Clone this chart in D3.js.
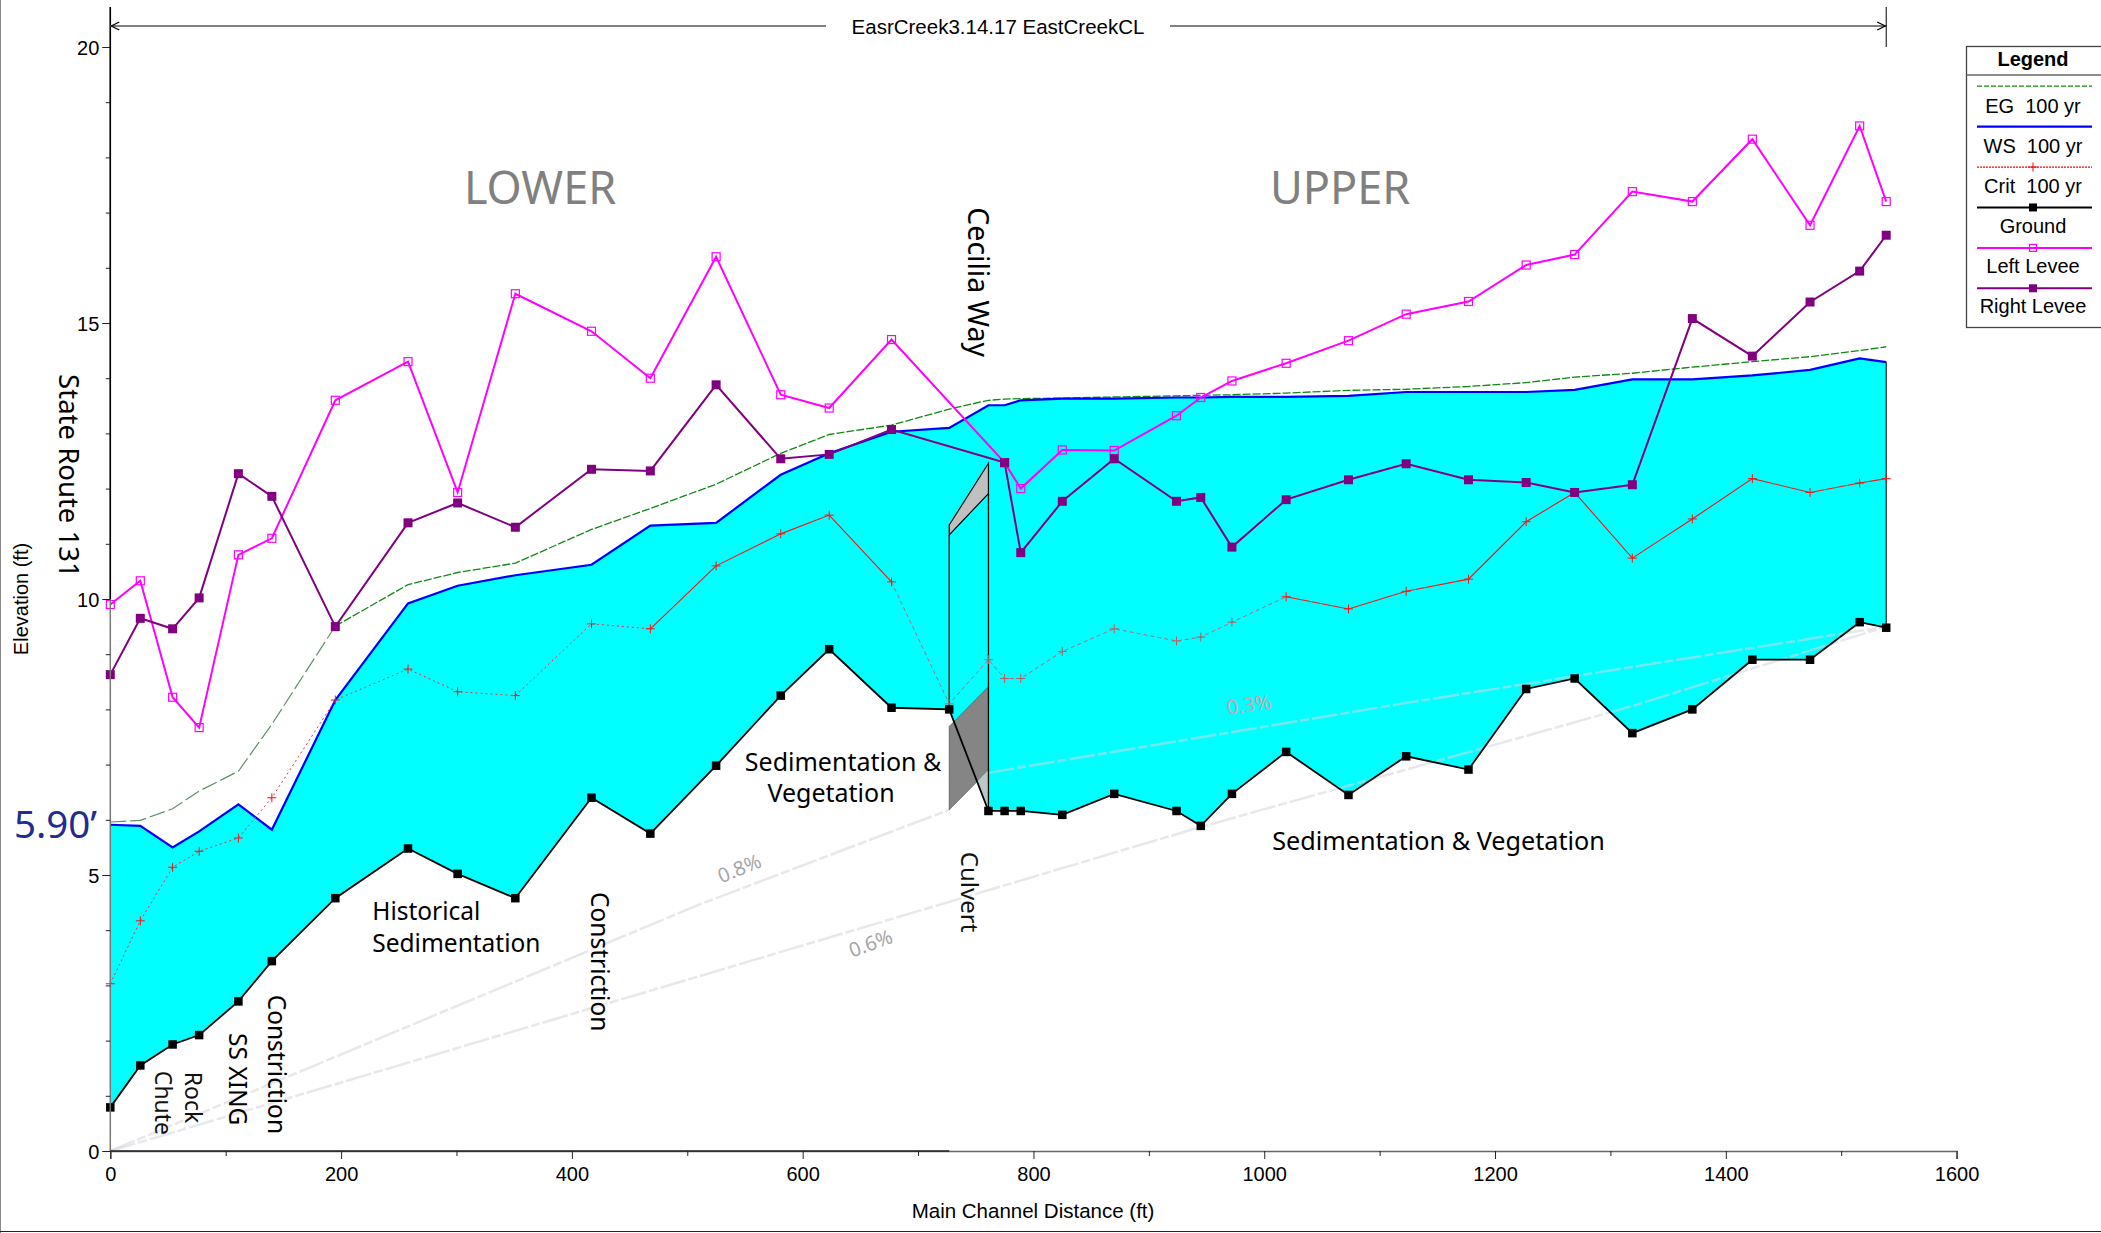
<!DOCTYPE html>
<html>
<head>
<meta charset="utf-8">
<script src="https://cdn.jsdelivr.net/npm/d3@7"></script>
<style>
  html, body { margin: 0; padding: 0; background: #fff; overflow: hidden; }
  svg { display: block; }
</style>
</head>
<body>
<div id="chart"></div>
<script>
// Main channel stations (ft)
const stations = [0, 26, 54, 77, 111, 140, 195, 258, 301, 351, 417, 468, 525, 581, 623, 677, 727, 761, 775, 789, 825, 870, 924, 945, 972, 1019, 1073, 1123, 1177, 1227, 1269, 1319, 1371, 1423, 1473, 1516, 1539];

// Elevations (ft), one per station
const ground = [0.79, 1.55, 1.93, 2.10, 2.71, 3.44, 4.58, 5.48, 5.02, 4.58, 6.40, 5.75, 6.98, 8.25, 9.09, 8.03, 8.00, 6.16, 6.16, 6.16, 6.09, 6.47, 6.16, 5.89, 6.47, 7.23, 6.45, 7.15, 6.91, 8.37, 8.56, 7.57, 8.00, 8.90, 8.90, 9.58, 9.48];
const ws = [5.91, 5.89, 5.50, 5.79, 6.28, 5.82, 8.17, 9.92, 10.24, 10.43, 10.62, 11.33, 11.38, 12.25, 12.64, 13.03, 13.10, 13.51, 13.51, 13.60, 13.63, 13.63, 13.65, 13.65, 13.66, 13.66, 13.68, 13.75, 13.75, 13.75, 13.79, 13.98, 13.98, 14.05, 14.15, 14.36, 14.29];
const eg = [5.96, 5.99, 6.20, 6.52, 6.88, 7.73, 9.51, 10.26, 10.48, 10.65, 11.26, 11.64, 12.08, 12.64, 12.98, 13.15, 13.44, 13.60, 13.62, 13.63, 13.64, 13.66, 13.68, 13.69, 13.70, 13.73, 13.78, 13.80, 13.85, 13.92, 14.02, 14.09, 14.20, 14.30, 14.39, 14.50, 14.57];
const crit = [3.03, 4.17, 5.14, 5.43, 5.67, 6.40, 8.17, 8.73, 8.32, 8.25, 9.55, 9.46, 10.60, 11.18, 11.52, 10.31, 8.10, 8.90, 8.56, 8.56, 9.05, 9.46, 9.24, 9.31, 9.58, 10.04, 9.82, 10.14, 10.36, 11.40, 11.93, 10.74, 11.45, 12.18, 11.93, 12.10, 12.18];
const leftLevee = [9.90, 10.33, 8.22, 7.67, 10.80, 11.10, 13.60, 14.30, 11.93, 15.53, 14.85, 14.00, 16.20, 13.70, 13.46, 14.70, null, null, 12.47, 12.00, 12.70, 12.69, 13.32, 13.65, 13.95, 14.27, 14.68, 15.16, 15.39, 16.05, 16.24, 17.38, 17.20, 18.33, 16.77, 18.57, 17.20];
const rightLevee = [8.63, 9.65, 9.46, 10.02, 12.27, 11.86, 9.50, 11.38, 11.74, 11.30, 12.35, 12.32, 13.88, 12.54, 12.62, 13.07, null, null, 12.47, 10.84, 11.77, 12.54, 11.77, 11.84, 10.94, 11.80, 12.16, 12.45, 12.16, 12.11, 11.93, 12.07, 15.08, 14.40, 15.38, 15.94, 16.59];

// Hand drawn grade lines [ft, elevation]
const slope08 = [[0, 0], [511, 4.47], [727, 6.18]];
const slope06 = [[0, 0], [511, 3.17], [945, 5.87], [1176, 7.22], [1319, 8.06], [1539, 9.5]];
const slope03 = [[761, 6.85], [1118, 8.1], [1539, 9.5]];

// Cecilia Way crossing [ft, elevation]
const deck = [[727, 11.34], [761, 12.46], [761, 11.91], [727, 11.16]];
const culvertBlock = [[727, 7.69], [761, 8.41], [761, 6.9], [727, 6.18]];
const culvertWedge = [[752, 6.71], [761, 6.9], [761, 6.16]];
const piers = [[727, 11.16, 8.0], [761, 11.91, 6.16]];

const xMajor = [0, 200, 400, 600, 800, 1000, 1200, 1400, 1600];
const xMinor = [100, 300, 500, 700, 900, 1100, 1300, 1500];
const yMajor = [0, 5, 10, 15, 20];
const yMinor = [1, 2, 3, 4, 6, 7, 8, 9, 11, 12, 13, 14, 16, 17, 18, 19];

const legendNames = ["EG  100 yr", "WS  100 yr", "Crit  100 yr", "Ground", "Left Levee", "Right Levee"];

// Callouts: text, ft, elevation, font size, rotation
const callouts = [
  ["LOWER", 372.4, 17.16, 45, 0, "#808080", "middle"],
  ["UPPER", 1065.7, 17.16, 45, 0, "#808080", "middle"],
  ["State Route 131", -35.6, 12.23, 27.5, 90, "#000", "middle"],
  ["Cecilia Way", 752.6, 15.74, 28.5, 90, "#000", "middle"],
  ["Constriction", 144.6, 1.57, 24.5, 90, "#000", "middle"],
  ["Constriction", 424.8, 3.43, 24.5, 90, "#000", "middle"],
  ["SS XING", 110.7, 1.30, 24.5, 90, "#000", "middle"],
  ["Rock", 72.5, 0.97, 23, 90, "#111", "middle"],
  ["Chute", 46.8, 0.87, 23, 90, "#111", "middle"],
  ["Culvert", 745.5, 4.69, 24, 90, "#111", "middle"],
  ["5.90’", -83.5, 5.67, 38.5, 0, "#1f2d8f", "start"],
  ["Historical", 227, 4.19, 24.5, 0, "#000", "start"],
  ["Sedimentation", 227, 3.61, 24.5, 0, "#000", "start"],
  ["Sedimentation &", 635, 6.88, 25, 0, "#000", "middle"],
  ["Vegetation", 624.6, 6.32, 25, 0, "#000", "middle"],
  ["Sedimentation & Vegetation", 1151, 5.46, 25.2, 0, "#000", "middle"],
  ["0.8%", 547.5, 5.0, 20, -22, "#a6a6a6", "middle"],
  ["0.6%", 661, 3.64, 20, -20, "#a6a6a6", "middle"],
  ["0.3%", 987.7, 7.96, 20, -8, "#c4a9ad", "middle"]
];

const width = 2101;
const height = 1233;
const axisFont = "'Liberation Sans', Arial, sans-serif";
const noteFont = "'Noto Sans', 'Open Sans', sans-serif";

const x = d3.scaleLinear().domain([0, 1600]).range([110.3, 1956.6]);
const y = d3.scaleLinear().domain([0, 20]).range([1151, 47]);

const svg = d3.select("#chart").append("svg")
  .attr("width", width)
  .attr("height", height)
  .attr("font-family", axisFont);

const rows = stations.map((s, i) => ({
  s, ground: ground[i], ws: ws[i], eg: eg[i], crit: crit[i], left: leftLevee[i], right: rightLevee[i]
}));

const lineOf = (key) => d3.line().x(d => x(d.s)).y(d => y(d[key]));
const pairLine = d3.line().x(d => x(d[0])).y(d => y(d[1]));

// Frame of the pasted picture
svg.append("line").attr("x1", 0.5).attr("x2", 0.5).attr("y1", 0).attr("y2", height).attr("stroke", "#8a8a8a");
svg.append("line").attr("x1", 0).attr("x2", width).attr("y1", 1231.5).attr("y2", 1231.5).attr("stroke", "#222");

// Water between ground and water surface
svg.append("path")
  .attr("d", d3.area().x(d => x(d.s)).y0(d => y(d.ground)).y1(d => y(d.ws))(rows))
  .attr("fill", "#00ffff");
svg.append("line")
  .attr("x1", x(1539)).attr("x2", x(1539))
  .attr("y1", y(ws[ws.length - 1])).attr("y2", y(ground[ground.length - 1]))
  .attr("stroke", "#000");

// Grade lines
[slope08, slope06, slope03].forEach(s => {
  svg.append("path")
    .attr("d", pairLine(s))
    .attr("fill", "none")
    .attr("stroke", "#d4d4dc")
    .attr("stroke-opacity", 0.55)
    .attr("stroke-width", 2.5)
    .attr("stroke-dasharray", "26 3 9 3");
});

// Bridge deck, piers and culvert
svg.append("path").attr("d", pairLine(culvertBlock) + "Z").attr("fill", "#858585").attr("stroke", "#555").attr("stroke-width", 0.7);
svg.append("path").attr("d", pairLine(culvertWedge) + "Z").attr("fill", "#c4c4c4");
svg.append("path").attr("d", pairLine(deck) + "Z").attr("fill", "#c0c0c0").attr("stroke", "#000").attr("stroke-width", 1.2);
piers.forEach(p => {
  svg.append("line")
    .attr("x1", x(p[0])).attr("x2", x(p[0]))
    .attr("y1", y(p[1])).attr("y2", y(p[2]))
    .attr("stroke", "#000").attr("stroke-width", 1.3);
});

// Thin line pieces that change style along the reach
function drawPieces(key, pieces) {
  pieces.forEach(p => {
    const part = rows.filter(d => d.s >= p.from && d.s <= p.to);
    svg.append("path")
      .attr("d", lineOf(key)(part))
      .attr("fill", "none")
      .attr("stroke", p.color)
      .attr("stroke-width", p.w)
      .attr("stroke-dasharray", p.dash);
  });
}

drawPieces("eg", [
  { from: 0, to: 195, color: "#5f8f68", w: 1.2, dash: "16 4" },
  { from: 195, to: 1539, color: "#118a11", w: 1.3, dash: "8 2" }
]);

svg.append("path")
  .attr("d", lineOf("ws")(rows))
  .attr("fill", "none").attr("stroke", "#0000ff").attr("stroke-width", 2.2);

drawPieces("crit", [
  { from: 0, to: 468, color: "#e8303a", w: 1, dash: "2 3" },
  { from: 468, to: 677, color: "#ff1010", w: 1.1, dash: null },
  { from: 677, to: 1019, color: "#a86f78", w: 1, dash: "4 3" },
  { from: 1019, to: 1539, color: "#ff1010", w: 1.1, dash: null }
]);

svg.append("g").selectAll("path").data(rows).join("path")
  .attr("d", d => `M${x(d.s) - 4.5},${y(d.crit)}h9M${x(d.s)},${y(d.crit) - 4.5}v9`)
  .attr("stroke", d => (d.s > 700 && d.s < 1000) ? "#b0605f" : "#ff1010")
  .attr("stroke-width", 1);

svg.append("path")
  .attr("d", lineOf("ground")(rows))
  .attr("fill", "none").attr("stroke", "#000").attr("stroke-width", 1.8);
svg.append("g").selectAll("rect").data(rows).join("rect")
  .attr("x", d => x(d.s) - 4.25).attr("y", d => y(d.ground) - 4.25)
  .attr("width", 8.5).attr("height", 8.5).attr("fill", "#000");

const leftRows = rows.filter(d => d.left !== null);
const rightRows = rows.filter(d => d.right !== null);

svg.append("path")
  .attr("d", lineOf("left")(leftRows))
  .attr("fill", "none").attr("stroke", "#ff00ff").attr("stroke-width", 2);
svg.append("g").selectAll("rect").data(leftRows).join("rect")
  .attr("x", d => x(d.s) - 4).attr("y", d => y(d.left) - 4)
  .attr("width", 8).attr("height", 8)
  .attr("fill", "none").attr("stroke", "#ff00ff").attr("stroke-width", 1.2);

svg.append("path")
  .attr("d", lineOf("right")(rightRows))
  .attr("fill", "none").attr("stroke", "#800080").attr("stroke-width", 2);
svg.append("g").selectAll("rect").data(rightRows).join("rect")
  .attr("x", d => x(d.s) - 4.5).attr("y", d => y(d.right) - 4.5)
  .attr("width", 9).attr("height", 9).attr("fill", "#800080");

// Axes
const xAxis = d3.axisBottom(x)
  .tickValues(xMajor.concat(xMinor))
  .tickSizeOuter(0)
  .tickSize(8)
  .tickFormat(d => xMajor.includes(d) ? d : "");
const xg = svg.append("g").attr("transform", `translate(0,${y(0)})`).call(xAxis);
xg.select(".domain").attr("stroke", "#666").attr("stroke-width", 1.5);
xg.selectAll(".tick line")
  .attr("y2", d => xMajor.includes(d) ? 8 : 5)
  .attr("stroke", "#222");
xg.selectAll(".tick text")
  .attr("y", 30).attr("dy", 0)
  .attr("font-size", 20).attr("font-family", axisFont).attr("fill", "#000");

const yAxis = d3.axisLeft(y)
  .tickValues(yMajor.concat(yMinor))
  .tickSizeOuter(0)
  .tickSize(8)
  .tickFormat(d => yMajor.includes(d) ? d : "");
const yg = svg.append("g").attr("transform", `translate(${x(0)},0)`).call(yAxis);
yg.select(".domain").attr("stroke", "#777").attr("stroke-width", 1.5).attr("d", `M0,${y(0)}V7`);
yg.selectAll(".tick line")
  .attr("x2", d => yMajor.includes(d) ? -8 : -4.5)
  .attr("stroke", "#222");
yg.selectAll(".tick text")
  .attr("x", -11).attr("dy", "0.35em")
  .attr("font-size", 20).attr("font-family", axisFont).attr("fill", "#000");
// darker upper part of the axis and left part of the baseline, as in the original
svg.append("line").attr("x1", x(0)).attr("x2", x(0)).attr("y1", 7).attr("y2", y(10)).attr("stroke", "#000").attr("stroke-width", 1.5);
svg.append("line").attr("x1", x(0)).attr("x2", x(727)).attr("y1", y(0)).attr("y2", y(0)).attr("stroke", "#222").attr("stroke-width", 1.5);

svg.append("text")
  .attr("transform", `translate(28,599) rotate(-90)`)
  .attr("text-anchor", "middle")
  .attr("font-size", 20)
  .text("Elevation (ft)");
svg.append("text")
  .attr("x", 1033).attr("y", 1218)
  .attr("text-anchor", "middle")
  .attr("font-size", 20.5)
  .text("Main Channel Distance (ft)");

// Reach span arrow on top
const spanY = 26;
[[x(0), 826], [1170, x(1539)]].forEach(seg => {
  svg.append("line")
    .attr("x1", seg[0]).attr("x2", seg[1]).attr("y1", spanY).attr("y2", spanY)
    .attr("stroke", "#808080").attr("stroke-width", 2);
});
svg.append("path")
  .attr("d", `M${x(0) + 9},${spanY - 4}L${x(0) + 1},${spanY}L${x(0) + 9},${spanY + 4}`)
  .attr("fill", "none").attr("stroke", "#000").attr("stroke-width", 1.3);
svg.append("path")
  .attr("d", `M${x(1539) - 9},${spanY - 4}L${x(1539) - 1},${spanY}L${x(1539) - 9},${spanY + 4}`)
  .attr("fill", "none").attr("stroke", "#000").attr("stroke-width", 1.3);
svg.append("line")
  .attr("x1", x(1539)).attr("x2", x(1539)).attr("y1", 7).attr("y2", 47)
  .attr("stroke", "#000");
svg.append("text")
  .attr("x", 998).attr("y", 34)
  .attr("text-anchor", "middle")
  .attr("font-size", 20.5)
  .text("EasrCreek3.14.17 EastCreekCL");

// Callouts
svg.append("g").selectAll("text").data(callouts).join("text")
  .attr("transform", d => `translate(${x(d[1])},${y(d[2])}) rotate(${d[4]})`)
  .attr("font-family", noteFont)
  .attr("font-size", d => d[3])
  .attr("fill", d => d[5])
  .attr("text-anchor", d => d[6])
  .attr("dominant-baseline", d => d[4] === 90 ? "central" : "auto")
  .text(d => d[0]);

// Legend
const legend = svg.append("g");
legend.append("rect")
  .attr("x", 1966.5).attr("y", 46.5).attr("width", 160).attr("height", 281)
  .attr("fill", "#fff").attr("stroke", "#444").attr("stroke-width", 1.3);
legend.append("line")
  .attr("x1", 1966.5).attr("x2", 2101).attr("y1", 75).attr("y2", 75)
  .attr("stroke", "#666").attr("stroke-width", 1.3);
legend.append("text")
  .attr("x", 2033).attr("y", 66)
  .attr("text-anchor", "middle")
  .attr("font-weight", "bold").attr("font-size", 20)
  .text("Legend");

const legendLine = d3.scaleLinear().domain([0, 5]).range([86.2, 288.3]);
const legendLabel = d3.scaleLinear().domain([0, 5]).range([113, 313]);
const legendStyle = [
  { color: "#118a11", w: 1.3, dash: "5 2" },
  { color: "#0000ff", w: 2.2 },
  { color: "#ff0000", w: 1.2, dash: "2 1", mark: "plus" },
  { color: "#000", w: 2, mark: "solid" },
  { color: "#ff00ff", w: 2, mark: "open" },
  { color: "#800080", w: 2, mark: "solid" }
];
legendNames.forEach((name, i) => {
  const st = legendStyle[i];
  const ly = legendLine(i);
  legend.append("line")
    .attr("x1", 1977).attr("x2", 2092).attr("y1", ly).attr("y2", ly)
    .attr("stroke", st.color).attr("stroke-width", st.w).attr("stroke-dasharray", st.dash || null);
  if (st.mark === "plus") {
    legend.append("path").attr("d", `M2028.5,${ly}h9M2033,${ly - 4.5}v9`).attr("stroke", st.color);
  } else if (st.mark === "solid") {
    legend.append("rect").attr("x", 2029).attr("y", ly - 4).attr("width", 8).attr("height", 8).attr("fill", st.color);
  } else if (st.mark === "open") {
    legend.append("rect").attr("x", 2029.5).attr("y", ly - 3.5).attr("width", 7).attr("height", 7)
      .attr("fill", "none").attr("stroke", st.color).attr("stroke-width", 1.2);
  }
  legend.append("text")
    .attr("x", 2033).attr("y", legendLabel(i))
    .attr("text-anchor", "middle")
    .attr("font-size", 20)
    .style("white-space", "pre")
    .text(name);
});
</script>
</body>
</html>
